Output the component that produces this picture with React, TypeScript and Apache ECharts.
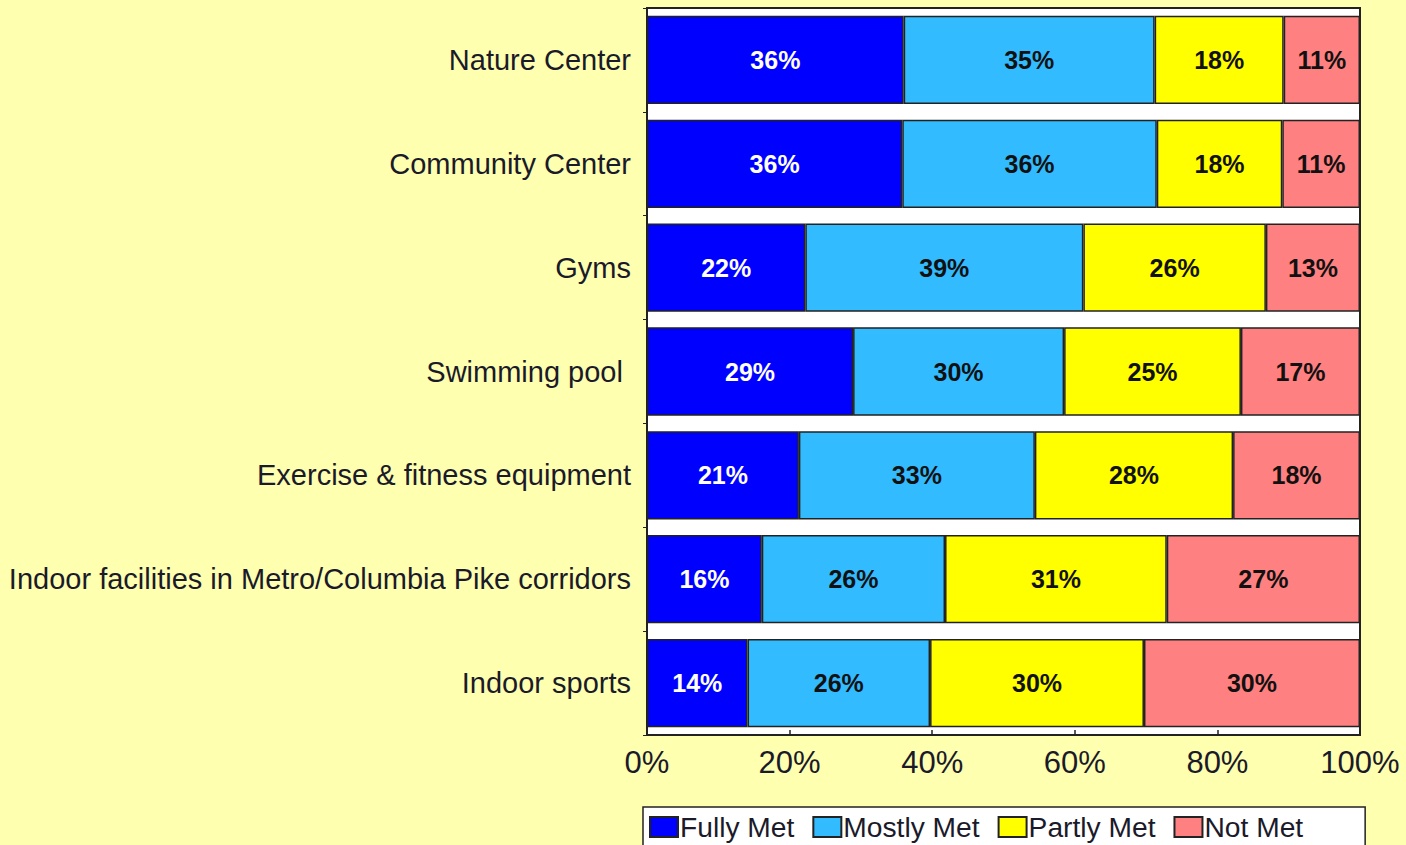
import React, { useEffect, useRef } from "react";
import * as echarts from "echarts";

const categories = [
  "Nature Center",
  "Community Center",
  "Gyms",
  "Swimming pool ",
  "Exercise & fitness equipment",
  "Indoor facilities in Metro/Columbia Pike corridors",
  "Indoor sports",
];
const fullyMet = [36.0, 35.8, 22.2, 28.9, 21.3, 16.1, 14.1];
const mostlyMet = [35.2, 35.7, 39.0, 29.6, 33.1, 25.7, 25.6];
const partlyMet = [18.1, 17.6, 25.6, 24.8, 27.8, 31.1, 30.0];
const notMet = [10.7, 10.9, 13.2, 16.7, 17.8, 27.1, 30.3];
const seriesNames = ["Fully Met", "Mostly Met", "Partly Met", "Not Met"];
const seriesColors = ["#0000FF", "#33BBFF", "#FFFF00", "#FF8080"];
const labelColors = ["#FFFFFF", "#111111", "#111111", "#111111"];
const xTicks = [0, 20, 40, 60, 80, 100];

const SANS = '"Liberation Sans", Arial, sans-serif';

export default function App() {
  const ref = useRef<HTMLDivElement>(null);
  useEffect(() => {
    if (!ref.current) return;
    const chart = echarts.init(ref.current, null, { renderer: "svg" });
    const values = [fullyMet, mostlyMet, partlyMet, notMet];
    chart.setOption({
      animation: false,
      backgroundColor: "#FFFFB0",
      grid: {
        left: 647,
        right: 46,
        top: 8,
        bottom: 110,
        show: true,
        backgroundColor: "#FFFFFF",
        borderColor: "#222222",
        borderWidth: 2,
      },
      legend: {
        data: seriesNames,
        left: 643,
        top: 807,
        padding: [6, 62, 10, 6],
        backgroundColor: "#FFFFFF",
        borderColor: "#222222",
        borderWidth: 1.5,
        itemWidth: 28,
        itemHeight: 20,
        itemGap: 18,
        icon: "rect",
        textStyle: { fontFamily: SANS, fontSize: 28.2, color: "#1a1a2a", padding: [0, 0, 0, -3] },
      },
      xAxis: {
        type: "value",
        min: xTicks[0],
        max: xTicks[xTicks.length - 1],
        interval: 20,
        axisLine: { show: true, lineStyle: { color: "#222222", width: 2 } },
        axisTick: { show: true, inside: true, length: 5, lineStyle: { color: "#222222", width: 1.5 } },
        splitLine: { show: false },
        axisLabel: {
          formatter: "{value}%",
          fontFamily: SANS,
          fontSize: 31,
          color: "#1a1a2a",
          margin: 12,
        },
      },
      yAxis: {
        type: "category",
        data: categories,
        inverse: true,
        axisLine: { show: true, lineStyle: { color: "#222222", width: 2 } },
        axisTick: { show: true, length: 4, lineStyle: { color: "#222222" } },
        axisLabel: {
          fontFamily: SANS,
          fontSize: 29,
          color: "#1a1a2a",
          margin: 16,
        },
      },
      series: seriesNames.map((name, i) => ({
        name,
        type: "bar",
        stack: "total",
        barCategoryGap: "15%",
        data: values[i],
        itemStyle: { color: seriesColors[i], borderColor: "#222222", borderWidth: 1.5 },
        label: {
          show: true,
          position: "inside",
          formatter: (p: any) => `${Math.round(p.value)}%`,
          fontFamily: SANS,
          fontWeight: "bold",
          fontSize: 25,
          color: labelColors[i],
        },
      })),
    });
    return () => chart.dispose();
  }, []);
  return (
    <div
      ref={ref}
      style={{ position: "fixed", left: 0, top: 0, width: 1406, height: 845 }}
    />
  );
}
